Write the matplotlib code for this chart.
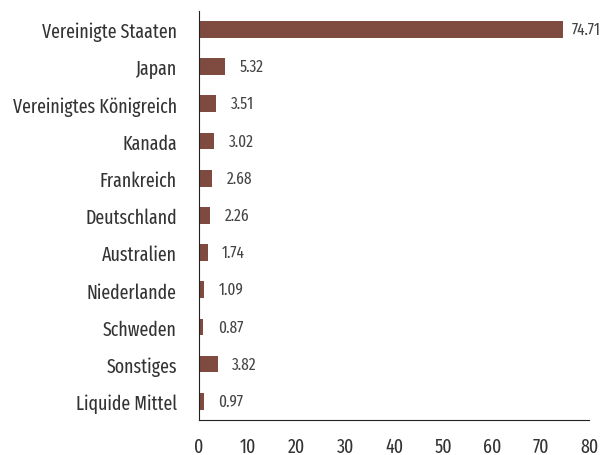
import matplotlib
matplotlib.use("Agg")
import matplotlib.pyplot as plt

countries = ["Vereinigte Staaten", "Japan", "Vereinigtes Königreich", "Kanada",
             "Frankreich", "Deutschland", "Australien", "Niederlande", "Schweden",
             "Sonstiges", "Liquide Mittel"]
values = [74.71, 5.32, 3.51, 3.02, 2.68, 2.26, 1.74, 1.09, 0.87, 3.82, 0.97]
xticks = [0, 10, 20, 30, 40, 50, 60, 70, 80]

plt.rcParams['font.family'] = ['Fira Sans Extra Condensed', 'DejaVu Sans']

fig = plt.figure(figsize=(6.05, 4.56), dpi=100)
ax = fig.add_axes([0.329, 0.077, 0.645, 0.897])

pos = list(range(len(countries)))
ax.barh(pos, values, height=0.45, color="#7f4a40")
for p, v in zip(pos, values):
    # long bar label sits closer so it stays inside the figure
    off = 1.6 if v > 70 else 3.0
    ax.text(v + off, p, f"{v:.2f}", va="center", ha="left", fontsize=12, color="#444444")

ax.set_yticks(pos)
ax.set_yticklabels(countries, fontsize=14, color="#333333")
ax.set_ylim(10.5, -0.5)
ax.set_xlim(0, 80)
ax.set_xticks(xticks)
ax.set_xticklabels([str(t) for t in xticks], fontsize=14, color="#333333")
ax.tick_params(length=0)
ax.tick_params(axis="x", pad=12)
ax.tick_params(axis="y", pad=16)
for s in ["top", "right"]:
    ax.spines[s].set_visible(False)
ax.spines["left"].set_color("#222222")
ax.spines["bottom"].set_color("#222222")

fig.savefig("out.png", dpi=100)
